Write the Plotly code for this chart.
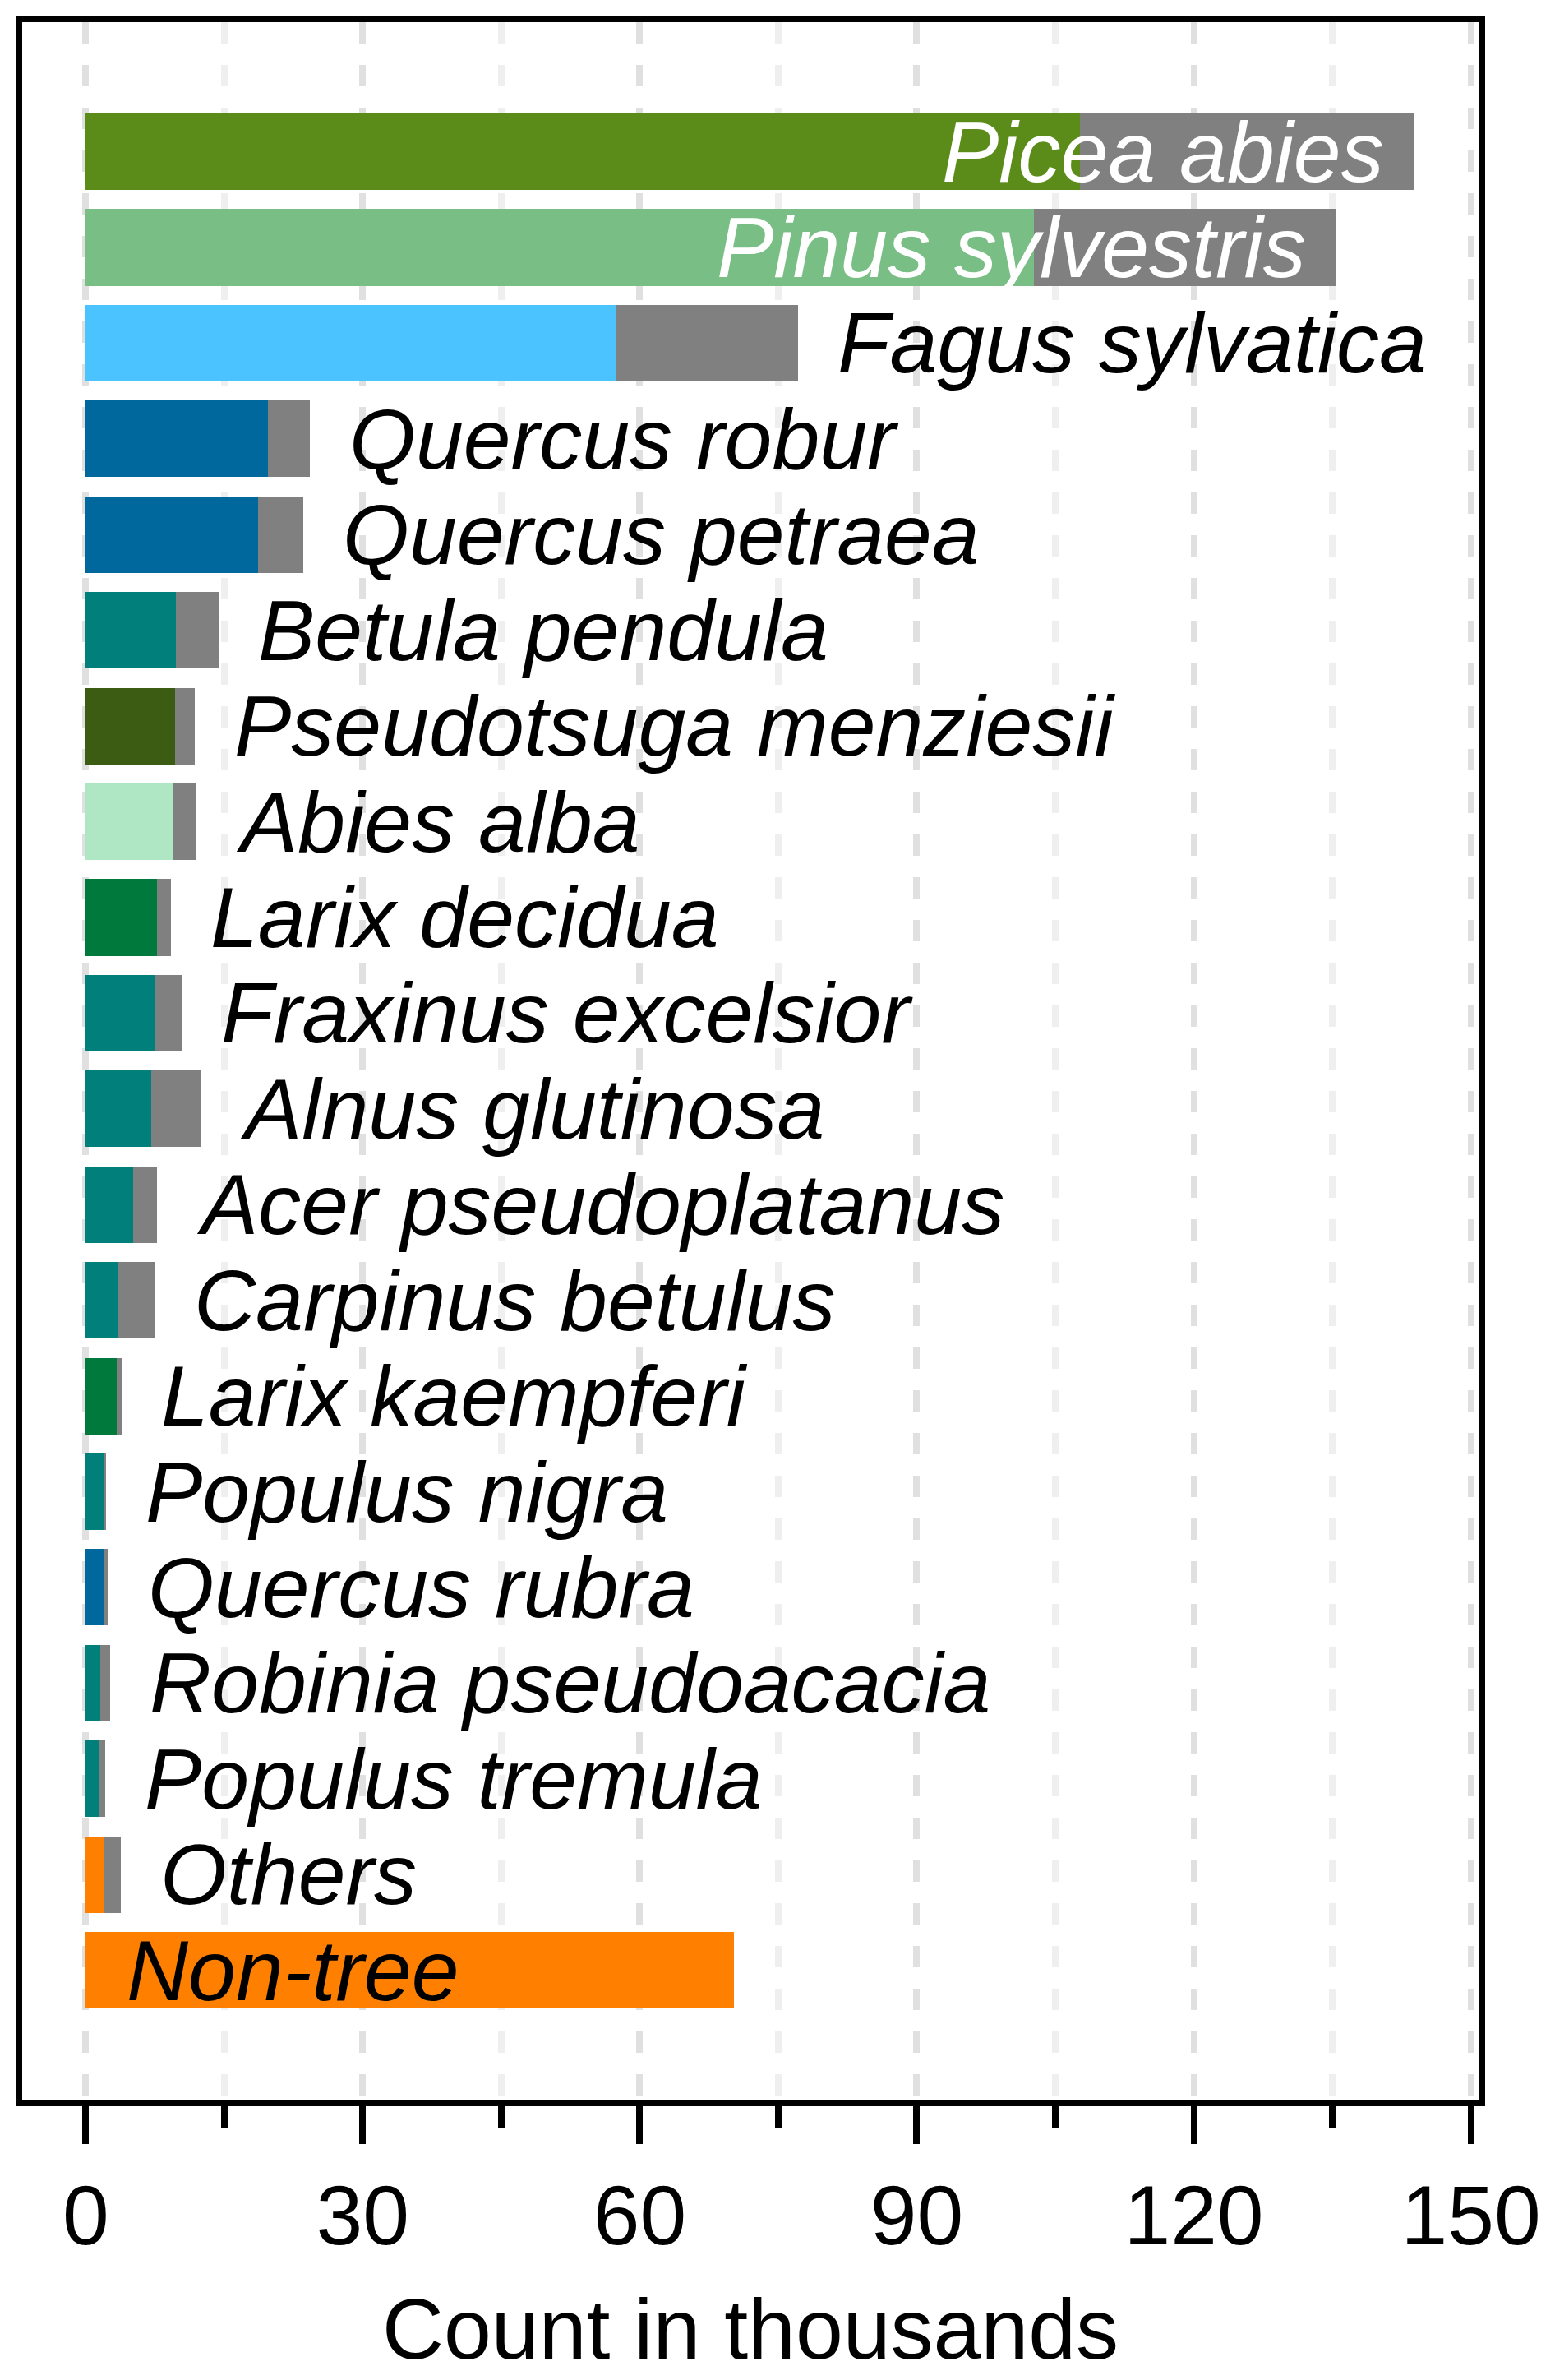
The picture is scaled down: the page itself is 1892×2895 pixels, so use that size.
import plotly.graph_objects as go

species = ["Picea abies", "Pinus sylvestris", "Fagus sylvatica", "Quercus robur",
           "Quercus petraea", "Betula pendula", "Pseudotsuga menziesii", "Abies alba",
           "Larix decidua", "Fraxinus excelsior", "Alnus glutinosa", "Acer pseudoplatanus",
           "Carpinus betulus", "Larix kaempferi", "Populus nigra", "Quercus rubra",
           "Robinia pseudoacacia", "Populus tremula", "Others", "Non-tree"]
colored = [107.7, 102.7, 57.4, 19.7, 18.7, 9.75, 9.65, 9.4, 7.7, 7.5,
           7.1, 5.1, 3.45, 3.35, 1.98, 1.91, 1.61, 1.44, 1.91, 70.2]
totals = [143.9, 135.4, 77.1, 24.3, 23.6, 14.4, 11.8, 12.0, 9.2, 10.4,
          12.4, 7.74, 7.43, 3.86, 2.19, 2.49, 2.6, 2.12, 3.78, 70.2]
colors = ["#5B8C1A", "#79BE85", "#4BC3FF", "#00689D", "#00689D", "#007F7B",
          "#3D5C13", "#AFE6C4", "#007A3C", "#007F7B", "#007F7B", "#007F7B",
          "#007F7B", "#007A3C", "#007F7B", "#00689D", "#007F7B", "#007F7B",
          "#FF8000", "#FF8000"]
inside_right = ["Picea abies", "Pinus sylvestris"]
inside_left = ["Non-tree"]
x_ticks = [0, 30, 60, 90, 120, 150]
x_minor = [15, 45, 75, 105, 135]

gray = [t - c for t, c in zip(totals, colored)]

fig = go.Figure()
fig.add_trace(go.Bar(y=species, x=colored, orientation="h",
                     marker=dict(color=colors, line=dict(width=0)), showlegend=False))
fig.add_trace(go.Bar(y=species, x=gray, orientation="h",
                     marker=dict(color="#808080", line=dict(width=0)), showlegend=False))

lab_font = dict(family="Liberation Sans, Arial, sans-serif", size=104, style="italic")
for s, c, t in zip(species, colored, totals):
    if s in inside_right:
        fig.add_annotation(x=t, y=s, text=s, showarrow=False, xanchor="right",
                           yanchor="middle", xshift=-35, font=dict(lab_font, color="white"))
    elif s in inside_left:
        fig.add_annotation(x=0, y=s, text=s, showarrow=False, xanchor="left",
                           yanchor="middle", xshift=48, font=dict(lab_font, color="black"))
    else:
        fig.add_annotation(x=t, y=s, text=s, showarrow=False, xanchor="left",
                           yanchor="middle", xshift=46, font=dict(lab_font, color="black"))

n = len(species)
fig.update_layout(
    width=1884, height=2887,
    margin=dict(l=19, r=93, t=19, b=341, autoexpand=False),
    barmode="stack", bargap=0.2,
    plot_bgcolor="white", paper_bgcolor="white",
    font=dict(family="Liberation Sans, Arial, sans-serif", color="black"),
    xaxis=dict(range=[-6.88, 150.84], tickmode="array", tickvals=x_ticks,
               ticktext=[str(v) for v in x_ticks], automargin=False,
               ticks="outside", ticklen=46, tickwidth=8, tickcolor="black",
               tickfont=dict(size=102),
               showline=True, linewidth=8, linecolor="black", mirror=True,
               showgrid=True, gridcolor="#e0e0e0", gridwidth=8, griddash="26px,26px",
               zeroline=False,
               minor=dict(tickvals=x_minor, ticks="outside", ticklen=27,
                          tickwidth=8, tickcolor="black", showgrid=True,
                          gridcolor="#efefef", gridwidth=8, griddash="26px,26px"),
               title=dict(text="Count in thousands", font=dict(size=104), standoff=48)),
    yaxis=dict(range=[n - 1 + 1.352, -1.354], showticklabels=False, ticks="",
               automargin=False,
               showline=True, linewidth=8, linecolor="black", mirror=True,
               showgrid=False, zeroline=False),
)

fig.write_html("out.html")
